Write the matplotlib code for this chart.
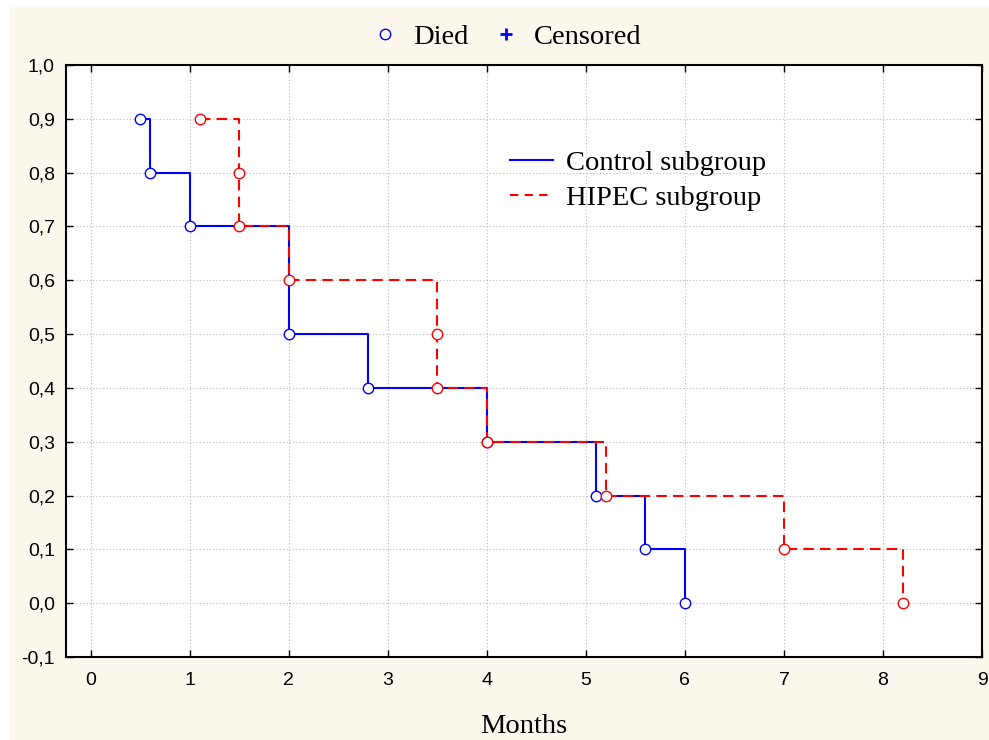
import matplotlib
matplotlib.use("Agg")
import matplotlib.pyplot as plt
from matplotlib.lines import Line2D
from matplotlib.patches import Rectangle

# Control subgroup (event times, survival)
ctrl_t = [0.5, 0.6, 1.0, 2.0, 2.8, 4.0, 5.1, 5.6, 6.0]
ctrl_s = [0.9, 0.8, 0.7, 0.5, 0.4, 0.3, 0.2, 0.1, 0.0]

# HIPEC subgroup
hipec_t = [1.1, 1.5, 1.5, 2.0, 3.5, 3.5, 4.0, 5.2, 7.0, 8.2]
hipec_s = [0.9, 0.8, 0.7, 0.6, 0.5, 0.4, 0.3, 0.2, 0.1, 0.0]

xticks = list(range(0, 10))
yticks = [-0.1, 0.0, 0.1, 0.2, 0.3, 0.4, 0.5, 0.6, 0.7, 0.8, 0.9, 1.0]

cream = "#fdf8ee"
serif = "Liberation Serif"
sans = "Liberation Sans"
fs = 20.5

fig = plt.figure(figsize=(9.89, 7.40), dpi=100, facecolor=cream)
# thin white strip along top and left edge
fig.patches.append(Rectangle((0, 733 / 740), 1, 7 / 740, transform=fig.transFigure,
                             facecolor="white", edgecolor="none"))
fig.patches.append(Rectangle((0, 0), 9 / 989, 1, transform=fig.transFigure,
                             facecolor="white", edgecolor="none"))
ax = fig.add_axes([66 / 989, 83 / 740, 916 / 989, 592 / 740])
ax.set_facecolor("white")

ax.step(ctrl_t, ctrl_s, where="post", color="#0000ff", lw=1.5, zorder=3)
ax.step(hipec_t, hipec_s, where="post", color="#ff0000", lw=1.5, ls=(0, (5, 3)), zorder=4)
ax.plot(ctrl_t, ctrl_s, "o", ms=7.5, mfc="white", mec="#0000ff", mew=1.0, zorder=5)
ax.plot(hipec_t, hipec_s, "o", ms=7.5, mfc="white", mec="#ff0000", mew=1.0, zorder=6)

ax.set_xlim(-0.25, 9)
ax.set_ylim(-0.1, 1.0)
ax.set_xticks(xticks)
ax.set_yticks(yticks)
ax.set_yticklabels([f"{v:.1f}".replace(".", ",") for v in yticks])
ax.grid(True, color="#bbbbbb", ls=(0, (1, 2)), lw=0.8)
ax.set_axisbelow(True)
ax.tick_params(direction="in", top=True, right=True, length=5, width=1,
               labelsize=14)
ax.tick_params(axis="x", pad=11)
ax.tick_params(axis="y", pad=8)
for lab in ax.get_xticklabels() + ax.get_yticklabels():
    lab.set_fontfamily(sans)
for sp in ax.spines.values():
    sp.set_linewidth(1.5)

ax.set_xlabel("Months", fontsize=fs, family=serif, labelpad=18)

h_in = [Line2D([], [], color="#0000ff", lw=1.5),
        Line2D([], [], color="#ff0000", lw=1.5, ls=(0, (4, 3)))]
ax.legend(h_in, ["Control subgroup", "HIPEC subgroup"], loc="upper left",
          bbox_to_anchor=(0.485, 0.857), frameon=False, borderpad=0, borderaxespad=0,
          prop={"family": serif, "size": fs}, handlelength=1.5, handletextpad=0.45,
          labelspacing=0.33)

h_top = [Line2D([], [], ls="none", marker="o", ms=7.5, mfc="white", mec="#0000ff"),
         Line2D([], [], ls="none", marker="+", ms=9, mew=2, color="#0000ff")]
fig.legend(h_top, ["Died", "Censored"], loc="center", bbox_to_anchor=(0.512, 0.95),
           ncol=2, frameon=False, prop={"family": serif, "size": fs},
           handlelength=1, handletextpad=0.5, columnspacing=0.8)

fig.savefig("out.png", dpi=100, facecolor=fig.get_facecolor())
